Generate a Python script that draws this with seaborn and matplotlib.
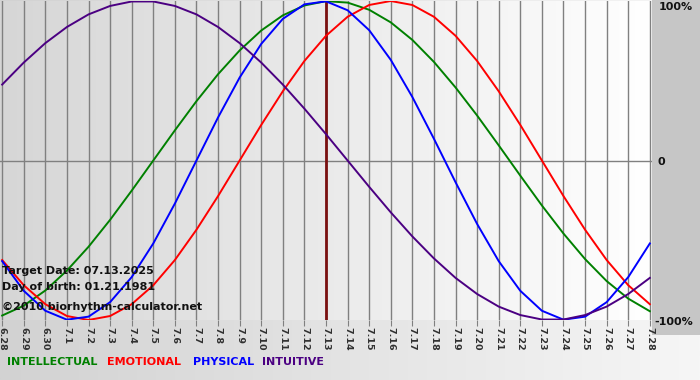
import numpy as np
import pandas as pd
import matplotlib
matplotlib.use("Agg")
import matplotlib.pyplot as plt
import seaborn as sns
from matplotlib.colors import LinearSegmentedColormap
from matplotlib.patches import Rectangle

# dates on the x axis (6.28 .. 7.28)
dates = ["6.28", "6.29", "6.30", "7.1", "7.2", "7.3", "7.4", "7.5", "7.6", "7.7",
         "7.8", "7.9", "7.10", "7.11", "7.12", "7.13", "7.14", "7.15", "7.16", "7.17",
         "7.18", "7.19", "7.20", "7.21", "7.22", "7.23", "7.24", "7.25", "7.26", "7.27", "7.28"]
target_day = "7.13"

# cycle values (-1 .. 1)
intellectual = [-0.972, -0.910, -0.815, -0.690, -0.541, -0.372, -0.189, 0.0, 0.189, 0.372,
                0.541, 0.690, 0.815, 0.910, 0.972, 0.999, 0.990, 0.945, 0.866, 0.756,
                0.618, 0.458, 0.282, 0.095, -0.095, -0.282, -0.458, -0.618, -0.756, -0.866, -0.945]
emotional = [-0.624, -0.782, -0.901, -0.975, -1.0, -0.975, -0.901, -0.782, -0.624, -0.434,
             -0.223, 0.0, 0.223, 0.434, 0.624, 0.782, 0.901, 0.975, 1.0, 0.975,
             0.901, 0.782, 0.624, 0.434, 0.223, 0.0, -0.223, -0.434, -0.624, -0.782, -0.901]
physical = [-0.631, -0.817, -0.942, -0.998, -0.979, -0.888, -0.731, -0.520, -0.270, 0.0,
            0.270, 0.520, 0.731, 0.888, 0.979, 0.998, 0.942, 0.817, 0.631, 0.398,
            0.136, -0.136, -0.398, -0.631, -0.817, -0.942, -0.998, -0.979, -0.888, -0.731, -0.520]
intuitive = [0.476, 0.614, 0.736, 0.837, 0.916, 0.969, 0.997, 0.997, 0.969, 0.916,
             0.837, 0.736, 0.614, 0.476, 0.325, 0.165, 0.0, -0.165, -0.325, -0.476,
             -0.614, -0.736, -0.837, -0.916, -0.969, -0.997, -0.997, -0.969, -0.916, -0.837, -0.736]

cycles = ["INTELLECTUAL", "EMOTIONAL", "PHYSICAL", "INTUITIVE"]
colors = {"INTELLECTUAL": "#008000", "EMOTIONAL": "#ff0000",
          "PHYSICAL": "#0000ff", "INTUITIVE": "#4b0082"}

rows = []
for name, vals in zip(cycles, [intellectual, emotional, physical, intuitive]):
    for i, v in enumerate(vals):
        rows.append({"day": i, "value": v, "cycle": name})
df = pd.DataFrame(rows)

W, H = 700, 380
fig = plt.figure(figsize=(7, 3.8), dpi=100)

# background
bg = fig.add_axes([0, 0, 1, 1])
bg_cmap = LinearSegmentedColormap.from_list("bg", ["#d2d2d2", "#f6f6f6"])
bg.imshow(np.linspace(0, 1, 256).reshape(1, -1), extent=[0, 1, 0, 1],
          aspect="auto", cmap=bg_cmap)
bg.add_patch(Rectangle((652 / W, 1 - 335 / H), 48 / W, 335 / H,
                       color="#c6c6c6", lw=0))
bg.set_xlim(0, 1)
bg.set_ylim(0, 1)
bg.axis("off")

ax = fig.add_axes([0, 1 - 320 / H, 652 / W, 319 / H])
plot_cmap = LinearSegmentedColormap.from_list("pl", ["#d6d6d6", "#ffffff"])
ax.imshow(np.linspace(0, 1, 256).reshape(1, -1), extent=[-0.1, len(dates) - 0.9, -1, 1],
          aspect="auto", cmap=plot_cmap, zorder=0)

ax.set_xticks(range(len(dates)))
ax.set_xticklabels(dates)
ax.grid(axis="x", color="#808080", lw=1, zorder=1)
ax.axhline(0, color="#808080", lw=1, zorder=1)
ax.axvline(dates.index(target_day), color="#7a1010", lw=2, zorder=2)

sns.lineplot(data=df, x="day", y="value", hue="cycle", hue_order=cycles,
             palette=colors, linewidth=1.4, legend=False, ax=ax, zorder=3)

ax.set_xlim(-0.1, len(dates) - 0.9)
ax.set_ylim(-1.0, 1.0)
ax.set_xlabel("")
ax.set_ylabel("")
ax.set_yticks([])
for s in ax.spines.values():
    s.set_visible(False)
ax.tick_params(axis="x", direction="out", length=4, color="#808080", pad=1,
               labelsize=6.8, labelrotation=270, labelcolor="#303030")
for lab in ax.get_xticklabels():
    lab.set_fontweight("bold")

# info text
info = dict(fontsize=8, fontweight="bold", color="#111111", va="center", ha="left")
fig.text(2 / W, 1 - 271 / H, "Target Date: 07.13.2025", **info)
fig.text(2 / W, 1 - 287 / H, "Day of birth: 01.21.1981", **info)
fig.text(2 / W, 1 - 307 / H, "\u00a92010 biorhythm-calculator.net", **info)

# right-hand scale labels
scale = dict(fontsize=8, fontweight="bold", color="#111111", va="center", ha="left")
fig.text(659 / W, 1 - 7 / H, "100%", **scale)
fig.text(658 / W, 1 - 162 / H, "0", **scale)
fig.text(654 / W, 1 - 322 / H, "-100%", **scale)

# bottom legend
leg_x = [7, 107, 193, 262]
for name, x in zip(cycles, leg_x):
    fig.text(x / W, 1 - 362 / H, name, fontsize=8, fontweight="bold",
             color=colors[name], va="center", ha="left")

fig.savefig("out.png", dpi=100)
